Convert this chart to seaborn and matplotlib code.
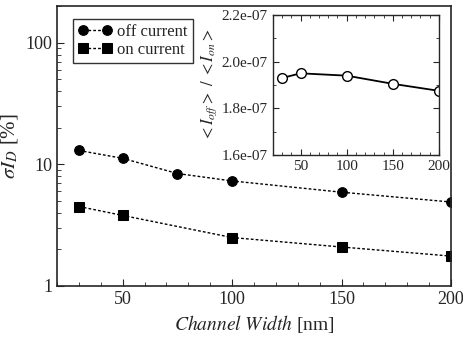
import numpy as np
import pandas as pd
import matplotlib
matplotlib.use("Agg")
import matplotlib.pyplot as plt
import seaborn as sns
from matplotlib.ticker import MultipleLocator, FixedLocator, NullFormatter, LogLocator, FixedFormatter

# Data
width_off = [30, 50, 75, 100, 150, 200]
off_current = [13.0, 11.2, 8.4, 7.3, 5.9, 4.9]
width_on = [30, 50, 100, 150, 200]
on_current = [4.5, 3.8, 2.5, 2.09, 1.76]
width_ratio = [30, 50, 100, 150, 200]
ratio = [1.93e-7, 1.95e-7, 1.94e-7, 1.905e-7, 1.875e-7]
main_yticks = [1, 10, 100]
main_ylabels = ["1", "10", "100"]
inset_yticks = [1.6e-7, 1.8e-7, 2.0e-7, 2.2e-7]
inset_ylabels = ["1.6e-07", "1.8e-07", "2.0e-07", "2.2e-07"]
xticks = [50, 100, 150, 200]

sns.set_style("ticks")
plt.rcParams['font.family'] = ['Liberation Serif', 'DejaVu Serif']
plt.rcParams['mathtext.fontset'] = 'stix'

fig = plt.figure(figsize=(4.64, 3.40), dpi=100)
ax = fig.add_axes([0.123, 0.159, 0.849, 0.823])

df_off = pd.DataFrame({"w": width_off, "v": off_current})
df_on = pd.DataFrame({"w": width_on, "v": on_current})
sns.lineplot(data=df_off, x="w", y="v", ax=ax, color="black", marker="o",
             markersize=7, linestyle=(0, (2, 1.5)), linewidth=1,
             label="off current", markeredgecolor="black")
sns.lineplot(data=df_on, x="w", y="v", ax=ax, color="black", marker="s",
             markersize=6.5, linestyle=(0, (2, 1.5)), linewidth=1,
             label="on current", markeredgecolor="black")
ax.set_yscale("log")
ax.set_ylim(1, 200)
ax.set_xlim(20, 200)
ax.yaxis.set_major_locator(FixedLocator(main_yticks))
ax.yaxis.set_major_formatter(FixedFormatter(main_ylabels))
ax.yaxis.set_minor_locator(LogLocator(base=10, subs=np.arange(2, 10)))
ax.yaxis.set_minor_formatter(NullFormatter())
ax.xaxis.set_major_locator(FixedLocator(xticks))
ax.xaxis.set_minor_locator(MultipleLocator(10))
ax.tick_params(which="both", direction="in", top=False, right=False, labelsize=13)
ax.tick_params(which="major", length=5)
ax.tick_params(which="minor", length=3)
ax.set_xlabel(r"$\it{Channel\ Width}$ [nm]", fontsize=14)
ax.set_ylabel(r"$\sigma I_D$ [%]", fontsize=15)
for s in ax.spines.values():
    s.set_linewidth(1.2)
leg = ax.legend(loc="upper left", fontsize=12, frameon=True, fancybox=False,
                edgecolor="black", handlelength=2.0, handletextpad=0.35,
                borderpad=0.3, labelspacing=0.15, numpoints=2,
                bbox_to_anchor=(0.02, 0.985))
leg.get_frame().set_linewidth(1.0)

# Inset
ins = fig.add_axes([0.588, 0.544, 0.358, 0.412])
df_r = pd.DataFrame({"w": width_ratio, "v": ratio})
sns.lineplot(data=df_r, x="w", y="v", ax=ins, color="black", marker="o",
             markersize=7, markerfacecolor="white", markeredgecolor="black",
             markeredgewidth=1, linewidth=1.3)
ins.set_xlim(20, 200)
ins.set_ylim(1.6e-7, 2.2e-7)
ins.xaxis.set_major_locator(FixedLocator(xticks))
ins.xaxis.set_minor_locator(MultipleLocator(10))
ins.yaxis.set_major_locator(FixedLocator(inset_yticks))
ins.yaxis.set_major_formatter(FixedFormatter(inset_ylabels))
ins.yaxis.set_minor_locator(MultipleLocator(0.1e-7))
ins.tick_params(which="both", direction="in", top=True, right=True, labelsize=11)
ins.tick_params(which="major", length=4)
ins.tick_params(which="minor", length=2)
ins.set_xlabel("")
ins.set_ylabel(r"$<I_{off}>\ /\ <I_{on}>$", fontsize=12, labelpad=2)
for s in ins.spines.values():
    s.set_linewidth(1.0)

fig.savefig("out.png", dpi=100)
